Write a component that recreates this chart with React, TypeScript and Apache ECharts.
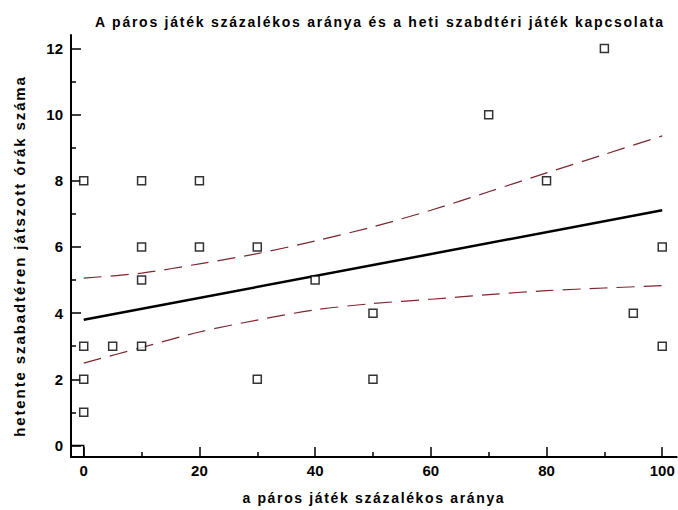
import React, { useEffect, useRef } from "react";
import * as echarts from "echarts";

const titleText = "A páros játék százalékos aránya és a heti szabdtéri játék kapcsolata";
const xName = "a páros játék százalékos aránya";
const yName = "hetente szabadtéren játszott órák száma";

const xMajorTicks = [0, 20, 40, 60, 80, 100];
const xMinorTicks = [10, 30, 50, 70, 90];
const yMajorTicks = [0, 2, 4, 6, 8, 10, 12];
const yMinorTicks = [1, 3, 5, 7, 9, 11];

const points: [number, number][] = [
  [0, 8], [0, 3], [0, 2], [0, 1],
  [5, 3],
  [10, 8], [10, 6], [10, 5], [10, 3],
  [20, 8], [20, 6],
  [30, 6], [30, 2],
  [40, 5],
  [50, 4], [50, 2],
  [70, 10],
  [80, 8],
  [90, 12],
  [95, 4],
  [100, 6], [100, 3],
];

const fitLine: [number, number][] = [[0, 3.8], [100, 7.11]];

const bandX = [0, 10, 20, 30, 40, 50, 60, 70, 80, 90, 100];
const upperBand = [5.06, 5.21, 5.49, 5.8, 6.18, 6.61, 7.11, 7.67, 8.24, 8.8, 9.36];
const lowerBand = [2.49, 2.96, 3.43, 3.79, 4.1, 4.29, 4.42, 4.56, 4.68, 4.76, 4.83];

const xMin = -2.2;
const xMax = 102.5;
const yMin = -0.35;
const yMax = 12.41;

export default function App() {
  const ref = useRef<HTMLDivElement>(null);
  useEffect(() => {
    if (!ref.current) return;
    const chart = echarts.init(ref.current, undefined, { renderer: "svg" });
    const font = "'Liberation Sans', Arial, sans-serif";
    const bandColor = "#7d2630";
    chart.setOption({
      animation: false,
      backgroundColor: "#ffffff",
      title: {
        text: titleText,
        left: 375,
        textAlign: "center",
        top: 10,
        textStyle: { fontFamily: font, fontSize: 14, fontWeight: "bold", color: "#000" },
      },
      graphic: [
        {
          type: "text",
          x: 19,
          y: 256,
          rotation: Math.PI / 2,
          style: {
            text: yName,
            font: "bold 15px 'Liberation Sans', Arial, sans-serif",
            fill: "#000",
            textAlign: "center",
            textVerticalAlign: "middle",
          },
        },
      ],
      grid: { left: 71, right: 1.3, top: 35, bottom: 51 },
      xAxis: [
        {
          type: "value",
          min: xMin,
          max: xMax,
          name: xName,
          nameLocation: "middle",
          nameGap: 34,
          nameTextStyle: { fontFamily: font, fontSize: 14, fontWeight: "bold", color: "#000" },
          axisLine: { show: true, onZero: false, lineStyle: { color: "#000", width: 2 } },
          axisTick: { show: true, inside: true, length: 10, customValues: xMajorTicks, lineStyle: { color: "#000", width: 1.5 } },
          axisLabel: { show: true, customValues: xMajorTicks, margin: 6, fontFamily: font, fontSize: 15, fontWeight: "bold", color: "#000" },
          splitLine: { show: false },
        },
        {
          type: "value",
          min: xMin,
          max: xMax,
          position: "bottom",
          axisLine: { show: false, onZero: false },
          axisTick: { show: true, inside: true, length: 5, customValues: xMinorTicks, lineStyle: { color: "#000", width: 1.5 } },
          axisLabel: { show: false },
          splitLine: { show: false },
        },
      ],
      yAxis: [
        {
          type: "value",
          min: yMin,
          max: yMax,
          axisLine: { show: true, onZero: false, lineStyle: { color: "#000", width: 2 } },
          axisTick: { show: true, inside: true, length: 10, customValues: yMajorTicks, lineStyle: { color: "#000", width: 1.5 } },
          axisLabel: { show: true, customValues: yMajorTicks, margin: 8, fontFamily: font, fontSize: 15, fontWeight: "bold", color: "#000" },
          splitLine: { show: false },
        },
        {
          type: "value",
          min: yMin,
          max: yMax,
          position: "left",
          axisLine: { show: false, onZero: false },
          axisTick: { show: true, inside: true, length: 5, customValues: yMinorTicks, lineStyle: { color: "#000", width: 1.5 } },
          axisLabel: { show: false },
          splitLine: { show: false },
        },
      ],
      series: [
        {
          type: "line",
          data: bandX.map((x, i) => [x, upperBand[i]]),
          smooth: 0.3,
          symbol: "none",
          lineStyle: { color: bandColor, width: 1.2, type: [18, 9] },
          z: 2,
        },
        {
          type: "line",
          data: bandX.map((x, i) => [x, lowerBand[i]]),
          smooth: 0.3,
          symbol: "none",
          lineStyle: { color: bandColor, width: 1.2, type: [18, 9] },
          z: 2,
        },
        {
          type: "line",
          data: fitLine,
          symbol: "none",
          lineStyle: { color: "#000", width: 2.5 },
          z: 3,
        },
        {
          type: "scatter",
          data: points,
          symbol: "rect",
          symbolSize: 8,
          itemStyle: { color: "#fff", borderColor: "#000", borderWidth: 1.5 },
          z: 4,
          markArea: {
            silent: true,
            itemStyle: { color: "rgba(0,0,0,0)", borderColor: "#000", borderWidth: 1.5 },
            data: [[{ coord: [xMin, yMin] }, { coord: [0, 0] }]],
          },
        },
      ],
    });
    const spacing: Record<string, string> = {
      [titleText]: "1.75px",
      [xName]: "1.65px",
      [yName]: "1.9px",
    };
    ref.current.querySelectorAll("text").forEach((t) => {
      const s = spacing[t.textContent || ""];
      if (s) (t as SVGTextElement).style.letterSpacing = s;
    });
    return () => chart.dispose();
  }, []);
  return (
    <div
      ref={ref}
      style={{ position: "absolute", left: 0, top: 0, width: 678, height: 510 }}
    />
  );
}
